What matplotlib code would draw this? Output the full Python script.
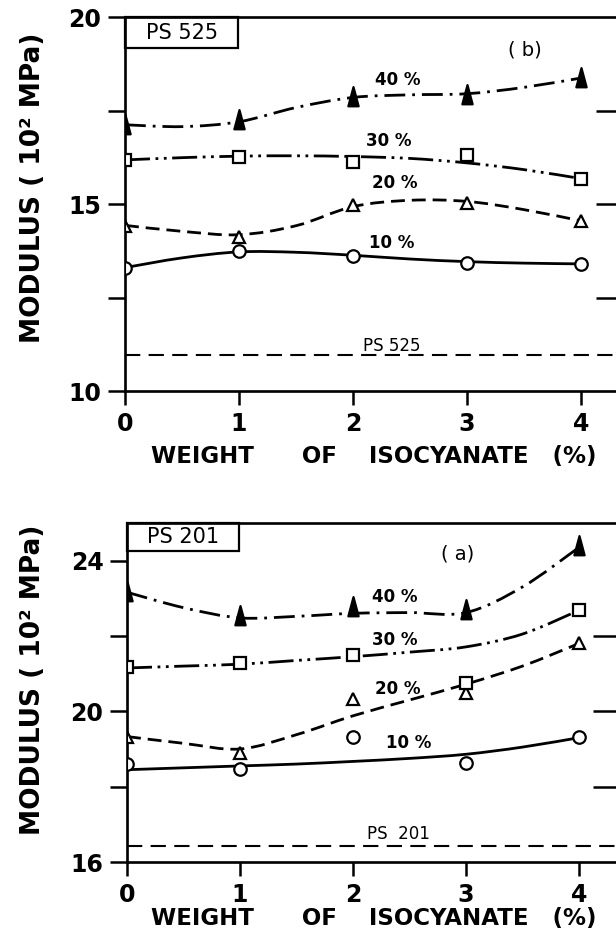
import numpy as np
import matplotlib
matplotlib.use('Agg')
import matplotlib.pyplot as plt
from matplotlib.path import Path
from matplotlib.patches import PathPatch, Rectangle

plt.rcParams['font.family'] = ['DejaVu Sans']
plt.rcParams['lines.scale_dashes'] = False

isocyanate = [0, 1, 2, 3, 4]
curve_x = [0, 0.5, 1, 1.5, 2, 2.5, 3, 3.5, 4]

# (b) PS 525 - measured points
b_10 = [13.30, 13.74, 13.61, 13.43, 13.40]
b_20 = [14.42, 14.13, 14.97, 15.03, 14.55]
b_30 = [16.18, 16.27, 16.13, 16.32, 15.68]
b_40 = [17.12, 17.25, 17.87, 17.92, 18.37]
b_base = 10.95
# (b) hand drawn curves, read at half steps
b_10_c = [13.30, 13.56, 13.72, 13.71, 13.63, 13.53, 13.46, 13.42, 13.40]
b_20_c = [14.43, 14.27, 14.18, 14.42, 14.93, 15.10, 15.07, 14.85, 14.55]
b_30_c = [16.18, 16.24, 16.28, 16.29, 16.27, 16.22, 16.10, 15.92, 15.68]
b_40_c = [17.12, 17.07, 17.20, 17.58, 17.85, 17.92, 17.95, 18.12, 18.37]

# (a) PS 201 - measured points
a_10 = [18.59, 18.47, 19.33, 18.63, 19.31]
a_20 = [19.33, 18.89, 20.32, 20.49, 21.81]
a_30 = [21.18, 21.27, 21.49, 20.74, 22.68]
a_40 = [23.16, 22.54, 22.77, 22.68, 24.39]
a_base = 16.43
a_10_c = [18.45, 18.50, 18.55, 18.60, 18.67, 18.75, 18.86, 19.05, 19.30]
a_20_c = [19.33, 19.15, 19.00, 19.38, 19.88, 20.30, 20.72, 21.20, 21.80]
a_30_c = [21.15, 21.20, 21.25, 21.35, 21.45, 21.57, 21.71, 22.05, 22.68]
a_40_c = [23.16, 22.75, 22.48, 22.52, 22.60, 22.62, 22.62, 23.30, 24.35]

series_labels = ['10 %', '20 %', '30 %', '40 %']

# tall filled triangle
tri_tall = Path([(-0.32, -0.55), (0.32, -0.55), (0.0, 0.65), (-0.32, -0.55)],
                [Path.MOVETO, Path.LINETO, Path.LINETO, Path.CLOSEPOLY])

styles = [
    dict(ls='-', marker='o', mfc='white', ms=9),
    dict(ls=(0, (10, 5)), marker='^', mfc='white', ms=9),
    dict(ls=(0, (18, 4, 2, 4, 2, 4)), marker='s', mfc='white', ms=8.5),
    dict(ls=(0, (15, 5, 2, 5)), marker=tri_tall, mfc='black', ms=15),
]


def smooth(ax, xs, ys, ls):
    # catmull-rom through the read curve nodes, drawn as cubic beziers
    p = np.column_stack([xs, ys])
    p = np.vstack([p[0], p, p[-1]])
    verts = [p[1]]
    codes = [Path.MOVETO]
    for i in range(1, len(p) - 2):
        c1 = p[i] + (p[i + 1] - p[i - 1]) / 6
        c2 = p[i + 1] - (p[i + 2] - p[i]) / 6
        verts += [c1, c2, p[i + 1]]
        codes += [Path.CURVE4] * 3
    patch = PathPatch(Path(verts, codes), fill=False, lw=2.0, ls=ls,
                      edgecolor='black', transform=ax.transData, zorder=2)
    ax.add_patch(patch)


def panel(rect, ylim, major, minor, points, curves, base, box_txt, tag,
          label_pos, base_pos, base_txt, tag_pos, ylab_y, xlab_y):
    ax = fig.add_axes(rect)
    ax.set_xlim(0, 4.4)
    ax.set_ylim(*ylim)
    for s in ax.spines.values():
        s.set_linewidth(1.9)
    ax.set_xticks(isocyanate)
    ax.set_xticklabels([str(v) for v in isocyanate])
    ax.set_yticks(major)
    ax.set_yticklabels([str(v) for v in major])
    ax.set_yticks(minor, minor=True)
    ax.tick_params(axis='y', which='both', direction='out', length=12,
                   width=1.8, labelsize=17, pad=5)
    ax.tick_params(axis='x', direction='out', length=10, width=1.8,
                   labelsize=17, pad=5)
    for t in ax.get_xticklabels() + ax.get_yticklabels():
        t.set_fontweight('bold')
    tw = ax.twinx()
    tw.set_ylim(*ylim)
    tw.set_yticks(major[1:-1] + minor)
    tw.set_yticklabels([])
    tw.tick_params(axis='y', direction='in', length=22, width=1.8)
    tw.spines['right'].set_linewidth(1.9)

    for ys, cs, st in zip(points, curves, styles):
        smooth(ax, curve_x, cs, st['ls'])
        ax.plot(isocyanate, ys, ls='none', marker=st['marker'], ms=st['ms'],
                mfc=st['mfc'], mec='black', mew=1.6, zorder=3)
    for lab, (lx, ly) in zip(series_labels, label_pos):
        ax.text(lx, ly, lab, fontsize=12, fontweight='bold', ha='center', va='center')

    ax.axhline(base, color='black', lw=1.5, ls=(0, (11, 6)), zorder=2)
    ax.text(base_pos[0], base_pos[1], base_txt, fontsize=12, ha='center', va='center')
    ax.text(tag_pos[0], tag_pos[1], tag, fontsize=14, ha='center', va='center')

    ax.add_patch(Rectangle((0, 1 - 0.083), 0.226, 0.083, transform=ax.transAxes,
                           fill=False, lw=1.6, edgecolor='black', clip_on=False))
    ax.text(0.113, 1 - 0.0415, box_txt, transform=ax.transAxes, fontsize=15,
            ha='center', va='center')

    fig.text(0.054, ylab_y, 'MODULUS ( 10² MPa)', rotation=90, fontsize=19,
             fontweight='bold', ha='center', va='center')
    fig.text(0.607, xlab_y, 'WEIGHT      OF    ISOCYANATE   (%)', fontsize=16.5,
             fontweight='bold', ha='center', va='center')
    return ax


fig = plt.figure(figsize=(6.16, 9.42), dpi=100)

panel([0.2029, 0.5849, 0.8143, 0.397], (10, 20), [10, 15, 20], [12.5, 17.5],
      [b_10, b_20, b_30, b_40], [b_10_c, b_20_c, b_30_c, b_40_c], b_base,
      'PS 525', '( b)',
      [(2.34, 13.97), (2.37, 15.55), (2.31, 16.68), (2.39, 18.32)],
      (2.34, 11.2), 'PS 525', (3.51, 19.12), 1 - 188 / 942, 1 - 456 / 942)

panel([0.2062, 0.0849, 0.807, 0.360], (16, 25), [16, 20, 24], [18, 22],
      [a_10, a_20, a_30, a_40], [a_10_c, a_20_c, a_30_c, a_40_c], a_base,
      'PS 201', '( a)',
      [(2.49, 19.16), (2.4, 20.6), (2.37, 21.88), (2.37, 23.04)],
      (2.4, 16.74), 'PS  201', (2.93, 24.17), 1 - 680 / 942, 1 - 918 / 942)

fig.savefig('out.png', dpi=100)
